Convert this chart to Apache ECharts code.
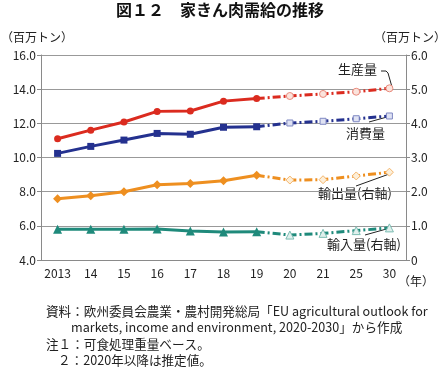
<!DOCTYPE html>
<html><head><meta charset="utf-8">
<script src="https://cdn.jsdelivr.net/npm/echarts@6/dist/echarts.min.js"></script>
<style>html,body{margin:0;padding:0;background:#fff}#c{width:440px;height:367px}</style>
</head><body><div id="c"></div>
<script>
var categories = ['2013','14','15','16','17','18','19','20','21','25','30'];
var production = [11.1,11.6,12.08,12.7,12.72,13.3,13.45,13.6,13.72,13.85,14.05];
var consumption = [10.24,10.65,11.02,11.41,11.36,11.77,11.8,12.02,12.12,12.27,12.43];
var exportsR = [1.79,1.88,2.0,2.2,2.24,2.32,2.48,2.34,2.35,2.46,2.57];
var importsR = [0.9,0.9,0.9,0.91,0.85,0.82,0.83,0.73,0.78,0.86,0.94];
var leftTicks = [4,6,8,10,12,14,16];
var rightTicks = [0,1,2,3,4,5,6];
var lastActual = 6;

var FONT = '"Noto Sans CJK JP", "Noto Sans", sans-serif';
var chart = echarts.init(document.getElementById('c'));

function actual(arr){ return arr.map(function(v,i){ return i<=lastActual ? v : '-'; }); }
function forecast(arr){ return arr.map(function(v,i){
  if (i<lastActual) return '-';
  if (i===lastActual) return {value:v, symbol:'none'};
  return v; }); }

function mk(name, arr, yIdx, color, pale, edge, symbol, size, fsize){
  return [
    {name:name, type:'line', yAxisIndex:yIdx, data:actual(arr), symbol:symbol, symbolSize:size,
     lineStyle:{color:color,width:3}, itemStyle:{color:color}, z:3, animation:false},
    {name:name+'f', type:'line', yAxisIndex:yIdx, data:forecast(arr), symbol:symbol, symbolSize:fsize,
     lineStyle:{color:color,width:3,type:[8,3,2,3]}, itemStyle:{color:pale,borderColor:edge,borderWidth:1}, z:2, animation:false}
  ];
}

var series = [].concat(
  mk('生産量', production, 0, '#db2b1f', '#fbe3dc', '#e88a7c', 'circle', 7, 7),
  mk('消費量', consumption, 0, '#24318f', '#dfe2f3', '#7f88c2', 'rect', 7, 6),
  mk('輸出量', exportsR, 1, '#ee8f20', '#fdefd9', '#f3b56c', 'diamond', 9, 8),
  mk('輸入量', importsR, 1, '#1f8a7b', '#e0f0ed', '#7cbcb2', 'triangle', 9, 8)
);

var axisColor = '#8a8a8a';
var txt = {fontFamily:FONT, fontSize:12, fill:'#222'};
function t(x,y,s,extra){ return {type:'text', left:x, top:y, style:Object.assign({text:s}, txt, extra||{})}; }
function ln(x1,y1,x2,y2){ return {type:'line', shape:{x1:x1,y1:y1,x2:x2,y2:y2}, style:{stroke:'#222',lineWidth:1}}; }
function pl(pts){ return {type:'polyline', shape:{points:pts}, style:{stroke:'#222',lineWidth:1,fill:null}}; }

chart.setOption({
  animation:false,
  textStyle:{fontFamily:FONT},
  grid:{left:41, right:34, top:55, bottom:107},
  xAxis:{type:'category', data:categories, boundaryGap:true,
    axisLine:{lineStyle:{color:axisColor}},
    axisTick:{inside:true, length:5, lineStyle:{color:axisColor}},
    axisLabel:{color:'#222', fontSize:12, margin:7, interval:0, fontFamily:FONT}},
  yAxis:[
    {type:'value', min:4, max:16, interval:2, position:'left',
     axisLine:{show:true, lineStyle:{color:axisColor}},
     axisTick:{show:true, length:4, lineStyle:{color:axisColor}},
     splitLine:{lineStyle:{color:'#999'}},
     axisLabel:{color:'#222', fontSize:12, margin:5, fontFamily:FONT, formatter:function(v){return v.toFixed(1);}}},
    {type:'value', min:0, max:6, interval:1, position:'right',
     axisLine:{show:true, lineStyle:{color:axisColor}},
     axisTick:{show:true, length:4, lineStyle:{color:axisColor}},
     splitLine:{show:false},
     axisLabel:{color:'#222', fontSize:12, margin:5, fontFamily:FONT, formatter:function(v){return v===0?'0':v.toFixed(1);}}}
  ],
  series:series,
  graphic:[
    {type:'text', left:'center', top:2, style:{text:'図１２　家きん肉需給の推移', fontFamily:FONT, fontSize:16, fontWeight:'bold', fill:'#111'}},
    t(1,31,'（百万トン）'),
    t(374,31,'（百万トン）'),
    t(398,275,'（年）'),
    t(338,63,'生産量', {fontSize:13}),
    pl([[381,71],[386,71],[388,73],[392,87]]),
    t(346,127,'消費量', {fontSize:13}),
    ln(369,122,387,117),
    t(318,187,'輸出量(右軸)', {fontSize:13}),
    ln(356,186,392,173),
    t(327,238,'輸入量(右軸)', {fontSize:13}),
    ln(365,235,390,228),
    t(46,305,'資料：欧州委員会農業・農村開発総局「EU agricultural outlook for', {fontSize:12.6}),
    t(71,321,'markets, income and environment, 2020-2030」から作成', {fontSize:12.6}),
    t(46,338,'注１：可食処理重量ベース。', {fontSize:12.6}),
    t(58,354,'２：2020年以降は推定値。', {fontSize:12.6})
  ]
});
</script></body></html>
